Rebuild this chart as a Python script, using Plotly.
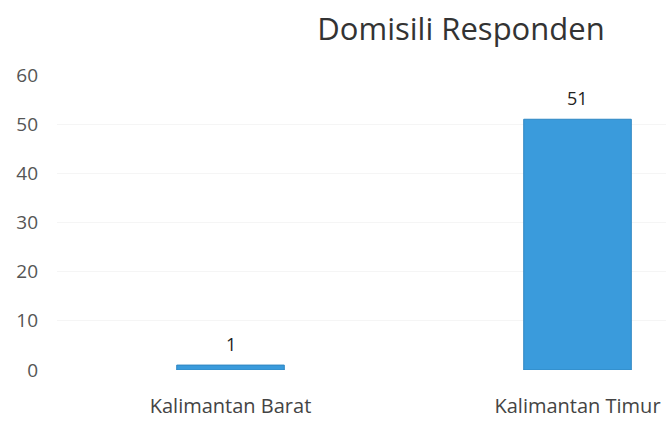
import plotly.graph_objects as go

categories = ["Kalimantan Barat", "Kalimantan Timur"]
counts = [1, 51]
y_ticks = [0, 10, 20, 30, 40, 50, 60]

BAR_COLOR = "#3A9BDC"
FONT = "Open Sans"

fig = go.Figure()
fig.add_trace(go.Bar(
    x=categories,
    y=counts,
    width=0.31,
    marker=dict(color=BAR_COLOR, line=dict(color="#2F86C2", width=1)),
))

# value labels floating above each bar
for cat, val in zip(categories, counts):
    fig.add_annotation(
        x=cat, y=val, text=str(val), showarrow=False,
        yanchor="bottom", yshift=7,
        font=dict(family=FONT, size=18, color="#222222"),
    )

fig.update_layout(
    title=dict(text="Domisili Responden", x=461 / 666, xanchor="center",
               y=1 - 29 / 421, yanchor="middle",
               font=dict(family=FONT, size=31, color="#333333")),
    width=666,
    height=421,
    margin=dict(l=57, r=0, t=75, b=51),
    plot_bgcolor="white",
    paper_bgcolor="white",
    showlegend=False,
    font=dict(family=FONT, color="#555555"),
)
fig.update_xaxes(
    range=[-0.5, 1.255],
    showgrid=False,
    showline=False,
    ticklabelstandoff=22,
    automargin=False,
    tickfont=dict(family=FONT, size=20, color="#444444"),
)
fig.update_yaxes(
    range=[0, 60],
    tickvals=y_ticks,
    showgrid=True,
    gridcolor="#F5F5F5",
    zeroline=False,
    showline=False,
    ticklabelstandoff=18,
    tickfont=dict(family=FONT, size=19, color="#555555"),
)

# drop the default page margin so the figure fills the window exactly
fig.write_html(
    "out.html",
    config={"displayModeBar": False},
    post_script="document.body.style.margin='0';document.body.style.overflow='hidden';",
)
